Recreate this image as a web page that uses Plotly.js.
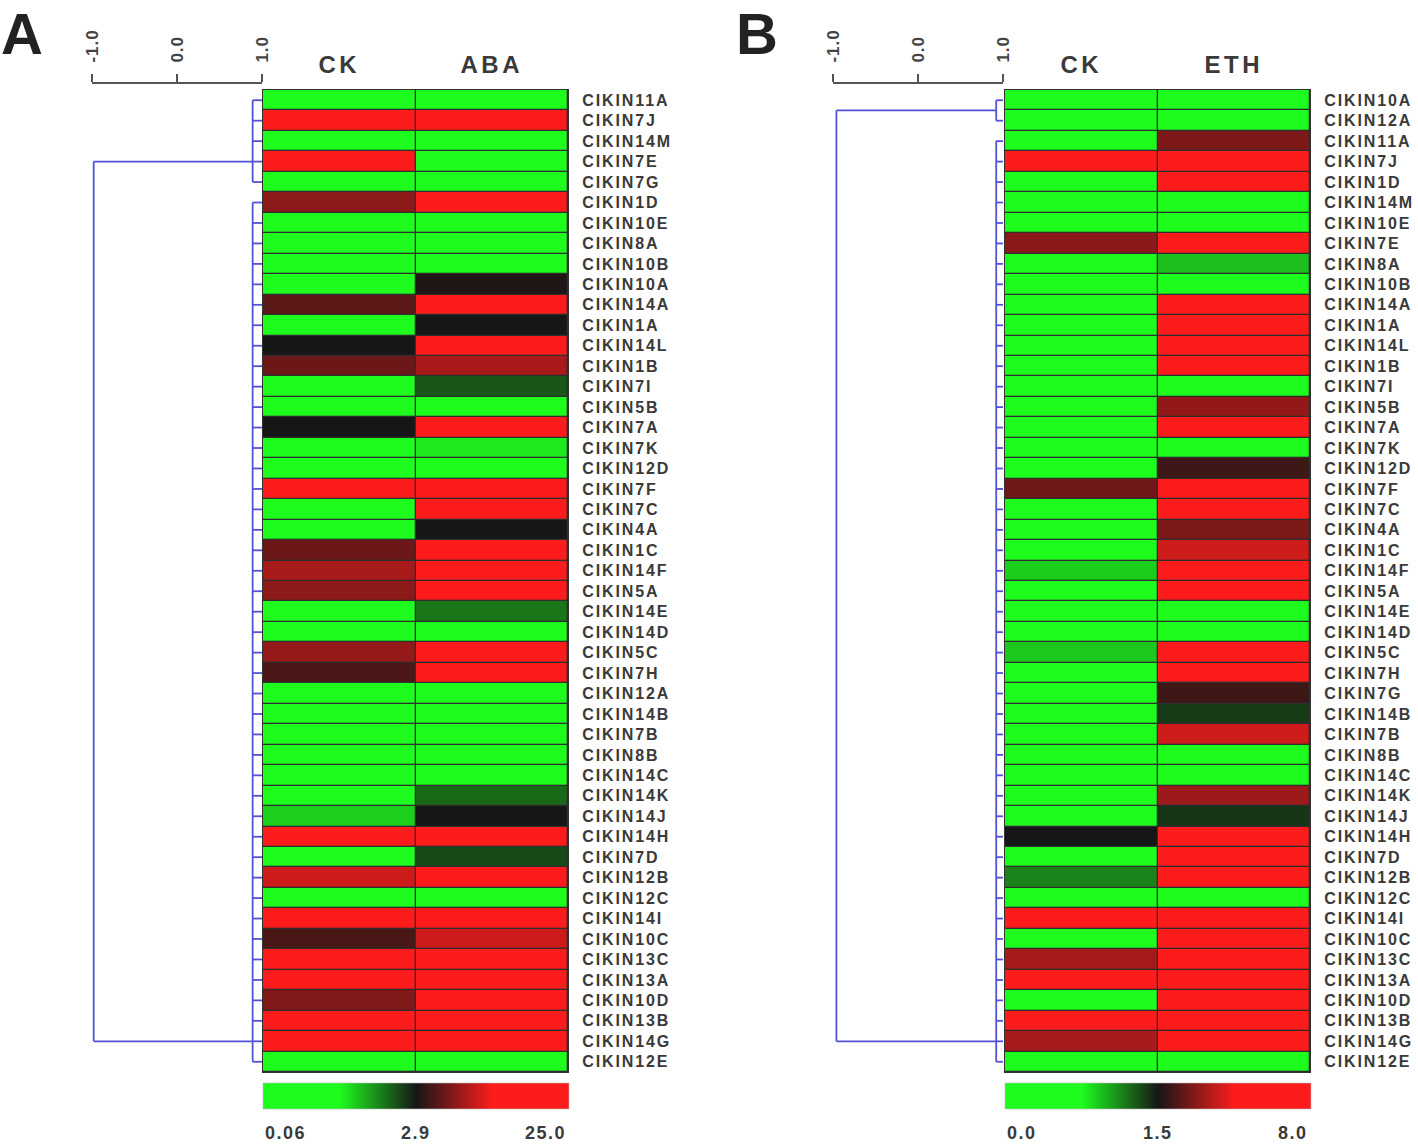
<!DOCTYPE html>
<html>
<head>
<meta charset="utf-8">
<script src="https://cdn.plot.ly/plotly-3.0.1.min.js"></script>
<style>
  html, body { margin: 0; padding: 0; background: #fff; }
  #chart { width: 1418px; height: 1144px; }
  .ytick text, .y2tick text { letter-spacing: 1.9px; }
  .xtick text, .x3tick text { letter-spacing: 3.5px; }
  .x2tick text, .x4tick text { letter-spacing: 1px; }
  .annotation-text { letter-spacing: 1.5px; }
</style>
</head>
<body>
<div id="chart"></div>
<script>
// ---------------- Panel A data (CK vs ABA) ----------------
const colsA = ['CK', 'ABA'];
const rowsA = ['CIKIN11A','CIKIN7J','CIKIN14M','CIKIN7E','CIKIN7G','CIKIN1D','CIKIN10E','CIKIN8A','CIKIN10B','CIKIN10A',
  'CIKIN14A','CIKIN1A','CIKIN14L','CIKIN1B','CIKIN7I','CIKIN5B','CIKIN7A','CIKIN7K','CIKIN12D','CIKIN7F',
  'CIKIN7C','CIKIN4A','CIKIN1C','CIKIN14F','CIKIN5A','CIKIN14E','CIKIN14D','CIKIN5C','CIKIN7H','CIKIN12A',
  'CIKIN14B','CIKIN7B','CIKIN8B','CIKIN14C','CIKIN14K','CIKIN14J','CIKIN14H','CIKIN7D','CIKIN12B','CIKIN12C',
  'CIKIN14I','CIKIN10C','CIKIN13C','CIKIN13A','CIKIN10D','CIKIN13B','CIKIN14G','CIKIN12E'];
const ckA  = [0.5, 19.5, 0.4, 17.8, 0.6, 8.6, 0.5, 0.7, 0.5, 0.6,
  6.3, 0.8, 2.9, 7.1, 0.9, 0.7, 2.9, 0.6, 0.5, 16.9,
  0.7, 0.6, 7.1, 9.85, 8.6, 0.8, 0.5, 9.0, 5.5, 0.4,
  0.6, 0.5, 0.7, 0.6, 0.9, 1.76, 17.2, 0.8, 11.7, 0.5,
  18.5, 5.4, 19.9, 18.7, 8.1, 20.1, 18.9, 0.6];
const abaA = [0.7, 21.2, 0.6, 0.5, 0.8, 18.6, 0.4, 0.6, 0.9, 3.34,
  19.0, 2.9, 17.5, 10.0, 2.5, 1.0, 18.2, 1.59, 1.1, 17.3,
  16.2, 2.9, 19.8, 20.4, 18.8, 2.3, 1.2, 18.0, 17.4, 0.9,
  1.0, 0.8, 0.9, 1.1, 2.39, 2.9, 18.8, 2.58, 18.1, 0.9,
  17.9, 11.7, 18.6, 19.4, 18.3, 17.7, 19.2, 0.7];
const scaleValsA = [0.06, 2.9, 25.0];
const scaleTextA = ['0.06', '2.9', '25.0'];
// dendrogram A (correlation units, row indices)
const clusterStartA = [0, 5];
const clusterEndA   = [4, 47];
const nodeHeightA   = [0.89, 0.89];
const rootHeightA   = -0.98;
const rootRowA      = [3, 46];

// ---------------- Panel B data (CK vs ETH) ----------------
const colsB = ['CK', 'ETH'];
const rowsB = ['CIKIN10A','CIKIN12A','CIKIN11A','CIKIN7J','CIKIN1D','CIKIN14M','CIKIN10E','CIKIN7E','CIKIN8A','CIKIN10B',
  'CIKIN14A','CIKIN1A','CIKIN14L','CIKIN1B','CIKIN7I','CIKIN5B','CIKIN7A','CIKIN7K','CIKIN12D','CIKIN7F',
  'CIKIN7C','CIKIN4A','CIKIN1C','CIKIN14F','CIKIN5A','CIKIN14E','CIKIN14D','CIKIN5C','CIKIN7H','CIKIN7G',
  'CIKIN14B','CIKIN7B','CIKIN8B','CIKIN14C','CIKIN14K','CIKIN14J','CIKIN14H','CIKIN7D','CIKIN12B','CIKIN12C',
  'CIKIN14I','CIKIN10C','CIKIN13C','CIKIN13A','CIKIN10D','CIKIN13B','CIKIN14G','CIKIN12E'];
const ckB  = [0.3, 0.4, 0.3, 6.2, 0.3, 0.2, 0.4, 3.16, 0.3, 0.4,
  0.3, 0.2, 0.3, 0.4, 0.3, 0.3, 0.4, 0.3, 0.2, 2.74,
  0.3, 0.4, 0.3, 0.9, 0.3, 0.2, 0.4, 0.92, 0.3, 0.4,
  0.3, 0.2, 0.3, 0.4, 0.3, 0.3, 1.5, 0.4, 1.14, 0.3,
  6.4, 0.3, 3.54, 6.1, 0.4, 6.6, 3.58, 0.3];
const ethB = [0.4, 0.3, 2.95, 6.5, 6.3, 0.3, 0.4, 6.0, 0.95, 0.4,
  6.2, 6.4, 6.1, 5.9, 0.3, 3.26, 6.0, 0.4, 2.06, 6.3,
  5.8, 2.93, 4.1, 6.2, 6.4, 0.3, 0.4, 6.1, 6.0, 2.06,
  1.38, 4.1, 0.3, 0.4, 3.4, 1.4, 6.3, 6.2, 6.1, 0.4,
  6.5, 6.2, 6.0, 6.3, 6.1, 6.4, 6.2, 0.3];
const scaleValsB = [0.0, 1.5, 8.0];
const scaleTextB = ['0.0', '1.5', '8.0'];
const clusterStartB = [0, 2];
const clusterEndB   = [1, 47];
const nodeHeightB   = [0.92, 0.92];
const rootHeightB   = -0.96;
const rootRowB      = [0.5, 46];

// correlation scale bar
const corrTicks  = [-1, 0, 1];
const corrLabels = ['-1.0', '0.0', '1.0'];
const leafHeight = 1.0;

// ---------------- helpers ----------------
// position of a value on the colour bar: low..mid -> 0..0.5, mid..high -> 0.5..1
function barPos(v, s) {
  if (v <= s[1]) return 0.5 * (v - s[0]) / (s[1] - s[0]);
  return Math.min(1, 0.5 + 0.5 * (v - s[1]) / (s[2] - s[1]));
}
function matrix(a, b, s) { return a.map((v, i) => [barPos(v, s), barPos(b[i], s)]); }
function dendro(starts, ends, nodes, rootH, rootRows) {
  const xs = [], ys = [];
  starts.forEach((st, c) => {
    xs.push(nodes[c], nodes[c], null); ys.push(st, ends[c], null);
    for (let r = st; r <= ends[c]; r++) { xs.push(nodes[c], leafHeight, null); ys.push(r, r, null); }
    xs.push(rootH, nodes[c], null); ys.push(rootRows[c], rootRows[c], null);
  });
  xs.push(rootH, rootH, null); ys.push(rootRows[0], rootRows[rootRows.length - 1], null);
  return {xs, ys};
}

const W = 1418, H = 1144;
const px = v => v / W, py = v => 1 - v / H;
const colorscale = [[0, '#1efc1e'], [0.25, '#1efc1e'], [0.5, '#161616'], [0.75, '#fc1c1c'], [1, '#fc1c1c']];
const FONT = 'Arial, "Liberation Sans", sans-serif';
const TXT = '#3a3a3a';
const LINE = '#5353d8';

function heat(cols, rows, a, b, s, xa, ya, cbLeft) {
  return {
    type: 'heatmap', x: cols, y: rows.map((_, i) => i), z: matrix(a, b, s),
    xaxis: xa, yaxis: ya, zmin: 0, zmax: 1, colorscale: colorscale,
    xgap: 1.3, ygap: 1.3, hoverinfo: 'skip',
    showscale: true,
    colorbar: {orientation: 'h', x: px(cbLeft), xanchor: 'left', y: py(1083), yanchor: 'top',
      len: 306 / W, lenmode: 'fraction', thickness: 26, thicknessmode: 'pixels',
      outlinewidth: 0.6, outlinecolor: '#bbbbbb', showticklabels: false, ticks: '', xpad: 0, ypad: 0}
  };
}
const dA = dendro(clusterStartA, clusterEndA, nodeHeightA, rootHeightA, rootRowA);
const dB = dendro(clusterStartB, clusterEndB, nodeHeightB, rootHeightB, rootRowB);

const traces = [
  heat(colsA, rowsA, ckA, abaA, scaleValsA, 'x', 'y', 263),
  {type: 'scatter', mode: 'lines', x: dA.xs, y: dA.ys, xaxis: 'x2', yaxis: 'y',
    line: {color: LINE, width: 1.8}, hoverinfo: 'skip', connectgaps: false},
  heat(colsB, rowsB, ckB, ethB, scaleValsB, 'x3', 'y2', 1005),
  {type: 'scatter', mode: 'lines', x: dB.xs, y: dB.ys, xaxis: 'x4', yaxis: 'y2',
    line: {color: LINE, width: 1.8}, hoverinfo: 'skip', connectgaps: false}
];

function heatX(l, r, anchor) {
  return {domain: [px(l), px(r)], anchor: anchor, side: 'top', type: 'category',
    showline: true, mirror: true, linecolor: '#333', linewidth: 1, ticks: '',
    ticklabelstandoff: 6, showgrid: false, zeroline: false, fixedrange: true,
    tickfont: {family: FONT, size: 24, weight: 'bold', color: TXT}};
}
function heatY(rows, anchor) {
  return {domain: [py(1072), py(90)], anchor: anchor, side: 'right',
    range: [rows.length - 0.5, -0.5], tickmode: 'array', tickvals: rows.map((_, i) => i), ticktext: rows,
    ticks: '', ticklabelstandoff: 10, showline: true, mirror: true, linecolor: '#333', linewidth: 1,
    showgrid: false, zeroline: false, fixedrange: true,
    tickfont: {family: FONT, size: 16, weight: 'bold', color: TXT}};
}
function corrX(l, r) {
  return {domain: [px(l), px(r)], anchor: 'free', position: py(83), side: 'top',
    range: [-1, 1], tickmode: 'array', tickvals: corrTicks, ticktext: corrLabels,
    ticks: 'outside', ticklen: 8, tickwidth: 2, tickcolor: '#555', showline: true, linewidth: 2,
    linecolor: '#555', tickangle: -90, ticklabelstandoff: 8, showgrid: false, zeroline: false,
    fixedrange: true, tickfont: {family: FONT, size: 17, weight: 'bold', color: '#444'}};
}

const annotations = [];
[[scaleTextA, 'x domain'], [scaleTextB, 'x3 domain']].forEach(([labels, ref]) => {
  const anchors = ['left', 'center', 'right'];
  labels.forEach((t, i) => annotations.push({text: t, xref: ref, yref: 'paper', x: i / (labels.length - 1),
    xanchor: anchors[i], y: py(1133), yanchor: 'middle', showarrow: false,
    font: {family: FONT, size: 18, weight: 'bold', color: TXT}}));
});
annotations.push({text: 'A', xref: 'paper', yref: 'paper', x: px(0), xanchor: 'left', y: 1, yanchor: 'top',
  borderpad: 0, showarrow: false, font: {family: FONT, size: 58, weight: 'bold', color: '#222'}});
annotations.push({text: 'B', xref: 'paper', yref: 'paper', x: px(735), xanchor: 'left', y: 1, yanchor: 'top',
  borderpad: 0, showarrow: false, font: {family: FONT, size: 58, weight: 'bold', color: '#222'}});

const shapes = [
  {type: 'rect', xref: 'x domain', yref: 'y domain', x0: 0, x1: 1, y0: 0, y1: 1, fillcolor: '#2e2e2e', line: {width: 0}, layer: 'below'},
  {type: 'rect', xref: 'x3 domain', yref: 'y2 domain', x0: 0, x1: 1, y0: 0, y1: 1, fillcolor: '#2e2e2e', line: {width: 0}, layer: 'below'}
];

const layout = {
  width: W, height: H, margin: {l: 0, r: 0, t: 0, b: 0, pad: 0},
  paper_bgcolor: '#ffffff', plot_bgcolor: 'rgba(0,0,0,0)', showlegend: false,
  xaxis: heatX(263, 568, 'y'), yaxis: heatY(rowsA, 'x'),
  xaxis2: corrX(92, 262),
  xaxis3: heatX(1005, 1310, 'y2'), yaxis2: heatY(rowsB, 'x3'),
  xaxis4: corrX(833, 1003),
  annotations: annotations, shapes: shapes
};

Plotly.newPlot('chart', traces, layout, {displayModeBar: false, staticPlot: true});
</script>
</body>
</html>
